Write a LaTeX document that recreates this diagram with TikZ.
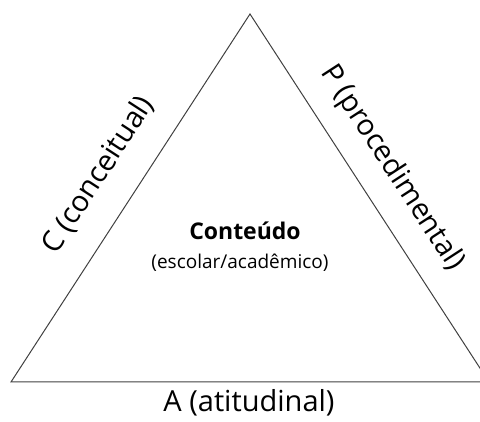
\documentclass[tikz,border=0pt]{standalone}
\usepackage{fontspec}
\setmainfont{Open Sans}
\begin{document}
\begin{tikzpicture}[x=1pt,y=-1pt,
	side/.style={font=\fontsize{29}{34}\selectfont,inner sep=0pt},
	centre/.style={font=\fontsize{23}{28}\selectfont\bfseries,inner sep=0pt},
	sub/.style={font=\fontsize{19}{23}\selectfont,inner sep=0pt},
	edgeline/.style={draw=black!75,line width=1pt}]
	\clip (0,0) rectangle (480,422);
	\coordinate (T) at (250,14);
	\coordinate (L) at (11,382);
	\coordinate (R) at (489,382);
	\node[side,rotate=57]	(C) at (98,175)		{C (conceitual)};
	\node[side,rotate=-57]	(P) at (392,168)	{P (procedimental)};
	\node[side]				(A) at (249,403)	{A (atitudinal)};
	\node[centre]			(K) at (245,231)	{Conteúdo};
	\node[sub]				(E) at (240,263)	{(escolar/acadêmico)};
	\draw[edgeline] (T) -- (L) -- (R) -- cycle;
\end{tikzpicture}
\end{document}
